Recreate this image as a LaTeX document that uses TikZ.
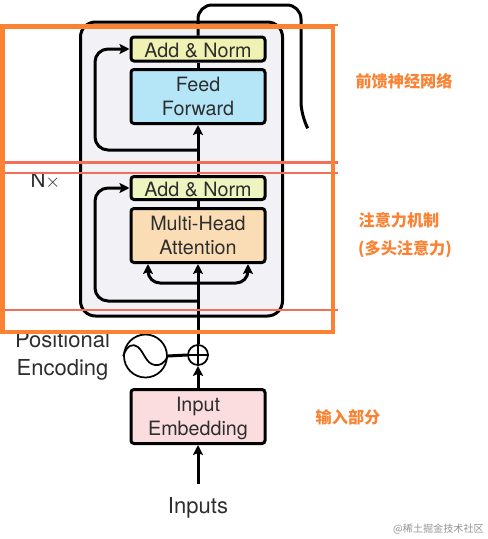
\documentclass[tikz,border=0pt]{standalone}
\usepackage{fontspec}
\setmainfont{TeX Gyre Heros}
\newfontfamily\cjk{Noto Sans CJK SC}
\usetikzlibrary{arrows.meta,calc}
\definecolor{orangeb}{HTML}{FA8232}
\definecolor{redl}{HTML}{F0705A}
\definecolor{txt}{HTML}{2E2E2E}
\definecolor{encfill}{HTML}{F2F2F6}
\definecolor{anfill}{HTML}{F0F2B4}
\definecolor{anfillb}{HTML}{EEF5C0}
\definecolor{fffill}{HTML}{B5E6F8}
\definecolor{mhafill}{HTML}{FBDDB5}
\definecolor{embfill}{HTML}{FBDDE0}
\tikzset{
  blk/.style={draw=black,line width=2.25pt,rounded corners=2.25pt,align=center,text=txt,minimum width=100.5pt,inner sep=0pt,font=\fontsize{14.8pt}{17.8pt}\selectfont},
  lbl/.style={text=txt,align=center,inner sep=0pt,font=\fontsize{16.5pt}{21pt}\selectfont},
  con/.style={line width=2.25pt,draw=black},
  arr/.style={con,-{Stealth[length=7.5pt,width=7.5pt,inset=1.5pt]}},
  anno/.style={text=orangeb,inner sep=0pt,font=\cjk\bfseries\fontsize{12.1pt}{14pt}\selectfont},
}
\begin{document}
\begin{tikzpicture}[x=.75pt,y=-.75pt]
\useasboundingbox (0,0) rectangle (488,539);
\fill[white] (0,0) rectangle (488,539);
% encoder block
\node[draw=black,line width=2.25pt,fill=encfill,rounded corners=11.25pt,minimum width=151.5pt,minimum height=220.5pt,inner sep=0pt] (enc) at (181.5,169) {};
\node[blk,fill=anfill,minimum height=18pt] (an1) at (198,49) {\rule{0pt}{13pt}Add \& Norm};
\node[blk,fill=fffill,minimum height=40.5pt] (ff) at (198,96.5) {Feed\\Forward};
\node[blk,fill=anfillb,minimum height=17.25pt] (an2) at (198,188) {\rule{0pt}{13pt}Add \& Norm};
\node[blk,fill=mhafill,minimum height=40.5pt] (mha) at (198,235.5) {Multi-Head\\Attention};
\node[blk,fill=embfill,minimum height=40.5pt] (emb) at (198,416.5) {\rule{0pt}{14pt}Input\\Embedding};
\node[draw=black,line width=1.3pt,circle,minimum size=15pt,inner sep=0pt] (plus) at (198,355) {};
\node[draw=black,line width=1.3pt,circle,minimum size=32.25pt,inner sep=0pt] (pe) at (145.5,356) {};
\draw[line width=.9pt] (plus.north) -- (plus.south) (plus.west) -- (plus.east);
\draw[line width=1.3pt] (pe.west) .. controls (127,345) and (133,343) .. (138,347) .. controls (144,352) and (146,364) .. (155,365) .. controls (160,365.5) and (164,364) .. (pe.east);
\node[lbl] (inp) at (198,507.5) {Inputs};
\node[lbl] (nx) at (45.5,181) {\fontsize{15.5pt}{21pt}\selectfont N$\times$};
\node[lbl,anchor=base] (pos) at (62.5,347) {Positional};
\node[lbl,anchor=base] (encd) at (62.5,375) {Encoding};
% connectors
\coordinate (inbot) at (198,484);
\coordinate (skipa) at (198,150);
\coordinate (skipb) at (198,301);
\coordinate (forka) at (198,283);
\coordinate (outa) at (306,125);
\draw[arr] (inbot) -- (emb.south);
\draw[arr] (emb.north) -- (plus.south);
\draw[con] (pe.east) -- (plus.west);
\draw[arr] (plus.north) -- (mha.south);
\draw[con] (mha.north) -- (an2.south);
\draw[arr] (an2.north) -- (ff.south);
\draw[con] (ff.north) -- (an1.south);
\draw[con,rounded corners=10.5pt] (an1.north) -- (198,5) -- (301,5) -- (301,116) -- (outa);
\draw[arr,rounded corners=9.75pt] (skipa) -- (95,150) -- (95,49) -- (an1.west);
\draw[arr,rounded corners=9.75pt] (skipb) -- (95,301) -- (95,188) -- (an2.west);
\draw[arr,rounded corners=9pt] (forka) -- (148,283) -- ($(mha.south)+(-50,0)$);
\draw[arr,rounded corners=9pt] (forka) -- (248,283) -- ($(mha.south)+(50,0)$);
% overlays
\draw[redl,line width=1.8pt] (0,162.5) -- (338,162.5) (0,173) -- (338,173) (0,310) -- (338,310);
\draw[orangeb,line width=3.7pt] (2.2,26.5) rectangle (333,332);
\draw[orangeb,line width=1.1pt] (333,25) -- (338,25);
\node[anno] (t1) at (404,81) {前馈神经网络};
\node[anno] (t2) at (399,220) {注意力机制};
\node[anno] (t3) at (405,249) {(多头注意力)};
\node[anno] (t4) at (348,417) {输入部分};
\node[inner sep=0pt,text=black!42,font=\cjk\fontsize{7.6pt}{10pt}\selectfont] (wm) at (438.5,529) {@稀土掘金技术社区};
\end{tikzpicture}
\end{document}
